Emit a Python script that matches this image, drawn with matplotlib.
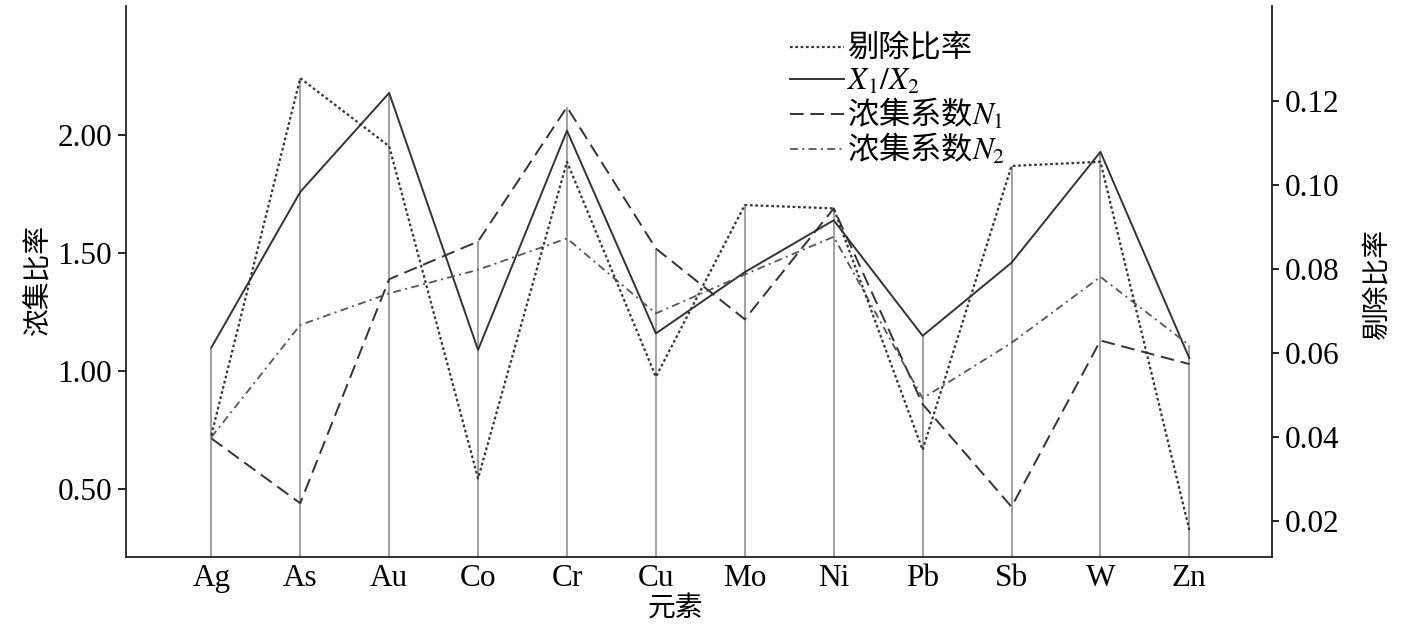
import matplotlib
matplotlib.use("Agg")
import matplotlib.pyplot as plt
from matplotlib.font_manager import FontProperties
from matplotlib.ticker import FormatStrFormatter

plt.rcParams['mathtext.fontset'] = 'stix'
plt.rcParams['font.family'] = ['Liberation Serif', 'Noto Sans CJK SC']

elements = ["Ag", "As", "Au", "Co", "Cr", "Cu", "Mo", "Ni", "Pb", "Sb", "W", "Zn"]
removal_ratio = [0.0405, 0.1255, 0.1093, 0.0302, 0.1056, 0.0544, 0.0953, 0.0945, 0.0370, 0.1046, 0.1056, 0.0179]
x1_x2 = [1.10, 1.76, 2.18, 1.09, 2.02, 1.16, 1.42, 1.64, 1.15, 1.46, 1.93, 1.055]
n1 = [0.715, 0.44, 1.39, 1.55, 2.12, 1.52, 1.22, 1.69, 0.86, 0.425, 1.13, 1.03]
n2 = [0.72, 1.196, 1.33, 1.43, 1.563, 1.245, 1.41, 1.57, 0.885, 1.12, 1.40, 1.11]

left_lim = (0.212, 2.547)
right_lim = (0.0115, 0.1426)
left_ticks = [0.50, 1.00, 1.50, 2.00]
right_ticks = [0.02, 0.04, 0.06, 0.08, 0.10, 0.12]

cjk = FontProperties(family=['Noto Sans CJK SC'], size=20)
cjk_leg = FontProperties(family=['Noto Sans CJK SC'], size=22.5)

fig = plt.figure(figsize=(14.17, 6.25), dpi=100)
ax = fig.add_axes([0.0889, 0.1088, 0.8088, 0.8810])
ax2 = ax.twinx()

xs = list(range(len(elements)))

# vertical guide lines up to the highest point at each element
def r2l(v):
    return left_lim[0] + (v - right_lim[0]) / (right_lim[1] - right_lim[0]) * (left_lim[1] - left_lim[0])

tops = [max(a, b, c, r2l(d)) for a, b, c, d in zip(x1_x2, n1, n2, removal_ratio)]
ax.vlines(xs, left_lim[0], tops, colors='#9a9a9a', linewidth=1.3, zorder=1)

l_sol, = ax.plot(xs, x1_x2, color='#333333', lw=1.4, ls='-', zorder=3, label='$X_1/X_2$')
l_n1, = ax.plot(xs, n1, color='#333333', lw=1.4, ls=(0, (7, 3.5)), zorder=3, label='浓集系数$N_1$')
l_n2, = ax.plot(xs, n2, color='#555555', lw=1.3, ls=(0, (4.4, 2.4, 1.1, 2.4)), zorder=3, label='浓集系数$N_2$')
l_rr, = ax2.plot(xs, removal_ratio, color='#333333', lw=1.6, ls=(0, (1.2, 1.2)), zorder=3, label='剔除比率')

ax.set_xlim(-0.96, 11.93)
ax.set_ylim(*left_lim)
ax2.set_ylim(*right_lim)

ax.set_xticks(xs)
ax.set_xticklabels(elements)
ax.set_yticks(left_ticks)
ax.yaxis.set_major_formatter(FormatStrFormatter('%.2f'))
ax2.set_yticks(right_ticks)
ax2.yaxis.set_major_formatter(FormatStrFormatter('%.2f'))

ax.tick_params(axis='x', length=0, pad=5, labelsize=22.5)
ax.tick_params(axis='y', direction='out', length=6, width=1.2, pad=4, labelsize=22.5)
ax2.tick_params(axis='y', direction='out', length=5, width=1.2, pad=4, labelsize=22.5)

for a in (ax, ax2):
    a.spines['top'].set_visible(False)
    for s in ('left', 'right', 'bottom'):
        a.spines[s].set_linewidth(1.3)
        a.spines[s].set_color('#222222')
ax.spines['right'].set_visible(False)
ax2.spines['left'].set_visible(False)
ax2.spines['bottom'].set_visible(False)

ax.set_ylabel('浓集比率', fontproperties=cjk)
ax.yaxis.set_label_coords(-0.063, 0.503)
ax2.set_ylabel('剔除比率', fontproperties=cjk, rotation=90)
ax2.yaxis.set_label_coords(1.0794, 0.494)
ax.set_xlabel('元素', fontproperties=cjk)
ax.xaxis.set_label_coords(0.479, -0.066)

leg = ax2.legend(handles=[l_rr, l_sol, l_n1, l_n2], loc='upper left',
                 bbox_to_anchor=(0.579, 0.952), frameon=False, prop=cjk_leg,
                 handlelength=1.75, handletextpad=0.1, labelspacing=0.0,
                 borderpad=0.0, borderaxespad=0.0)

fig.savefig('out.png', dpi=100)
